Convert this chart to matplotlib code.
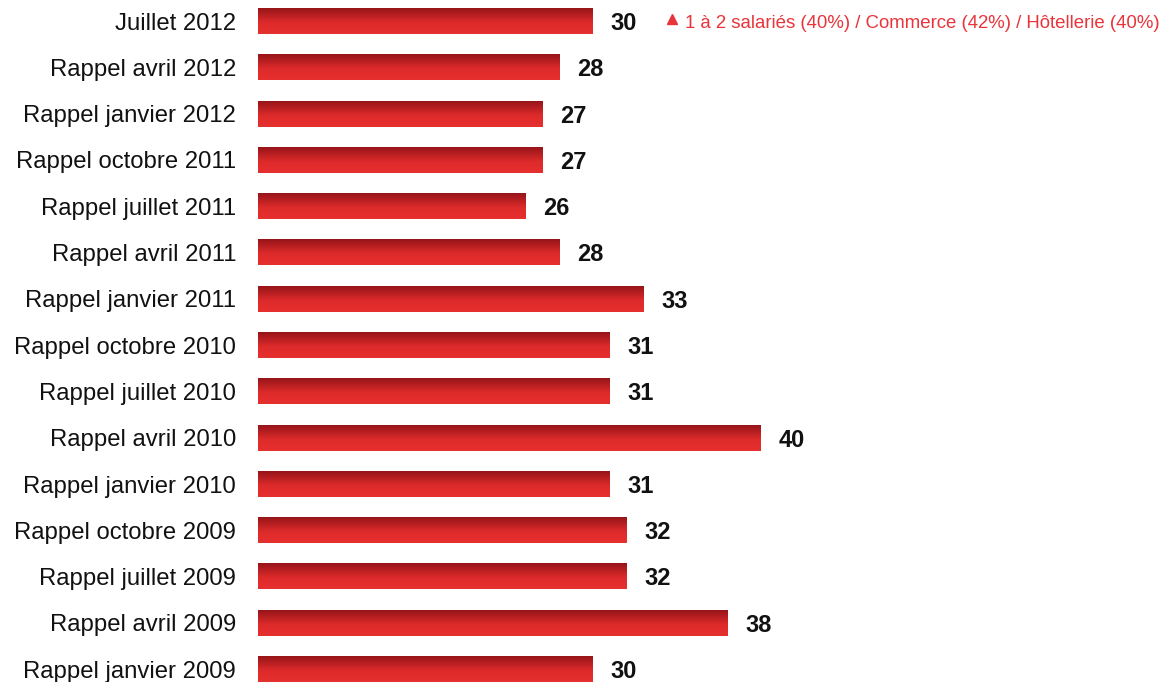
import numpy as np
import matplotlib
matplotlib.use("Agg")
import matplotlib.pyplot as plt
from matplotlib.colors import LinearSegmentedColormap

categories = ["Juillet 2012", "Rappel avril 2012", "Rappel janvier 2012", "Rappel octobre 2011",
              "Rappel juillet 2011", "Rappel avril 2011", "Rappel janvier 2011", "Rappel octobre 2010",
              "Rappel juillet 2010", "Rappel avril 2010", "Rappel janvier 2010", "Rappel octobre 2009",
              "Rappel juillet 2009", "Rappel avril 2009", "Rappel janvier 2009"]
values = [30, 28, 27, 27, 26, 28, 33, 31, 31, 40, 31, 32, 32, 38, 30]
note_text = "1 à 2 salariés (40%) / Commerce (42%) / Hôtellerie (40%)"

plt.rcParams['font.family'] = ['Liberation Sans', 'DejaVu Sans']

fig = plt.figure(figsize=(11.64, 6.82), dpi=100)
ax = fig.add_axes([258 / 1164, 0, 1 - 258 / 1164, 1])
x0 = 10.06
xr = x0 + 906 / 16.8
ax.axis('off')

cmap = LinearSegmentedColormap.from_list(
    "bar", [(0, "#961519"), (0.55, "#dc2a2b"), (0.8, "#e42d2d"), (1.0, "#e3302f")])
grad = np.linspace(0, 1, 64).reshape(-1, 1)
h = 0.56
for i, (cat, v) in enumerate(zip(categories, values)):
    ax.imshow(grad, cmap=cmap, aspect='auto', extent=(x0, v, i + h / 2, i - h / 2),
              interpolation='bilinear', zorder=2)
    ax.text(v + 1.05, i, str(v), ha='left', va='center_baseline', fontsize=17,
            fontweight='bold', color='#111111')
    fig.text(236 / 1164, 1 - (21 + i * 46.3) / 682, cat, ha='right', va='center_baseline',
             fontsize=17.2, color='#111111')

ax.plot([x0 + (672 - 258) / 16.8], [-0.04], marker='^', color='#e8343a',
        markersize=7, clip_on=False)
ax.text(x0 + (685 - 258) / 16.8, 0, note_text, ha='left', va='center_baseline',
        fontsize=13.4, color='#e8343a')

ax.set_xlim(x0, xr)
ax.set_ylim(14.28, -0.454)
fig.savefig("out.png", dpi=100)
